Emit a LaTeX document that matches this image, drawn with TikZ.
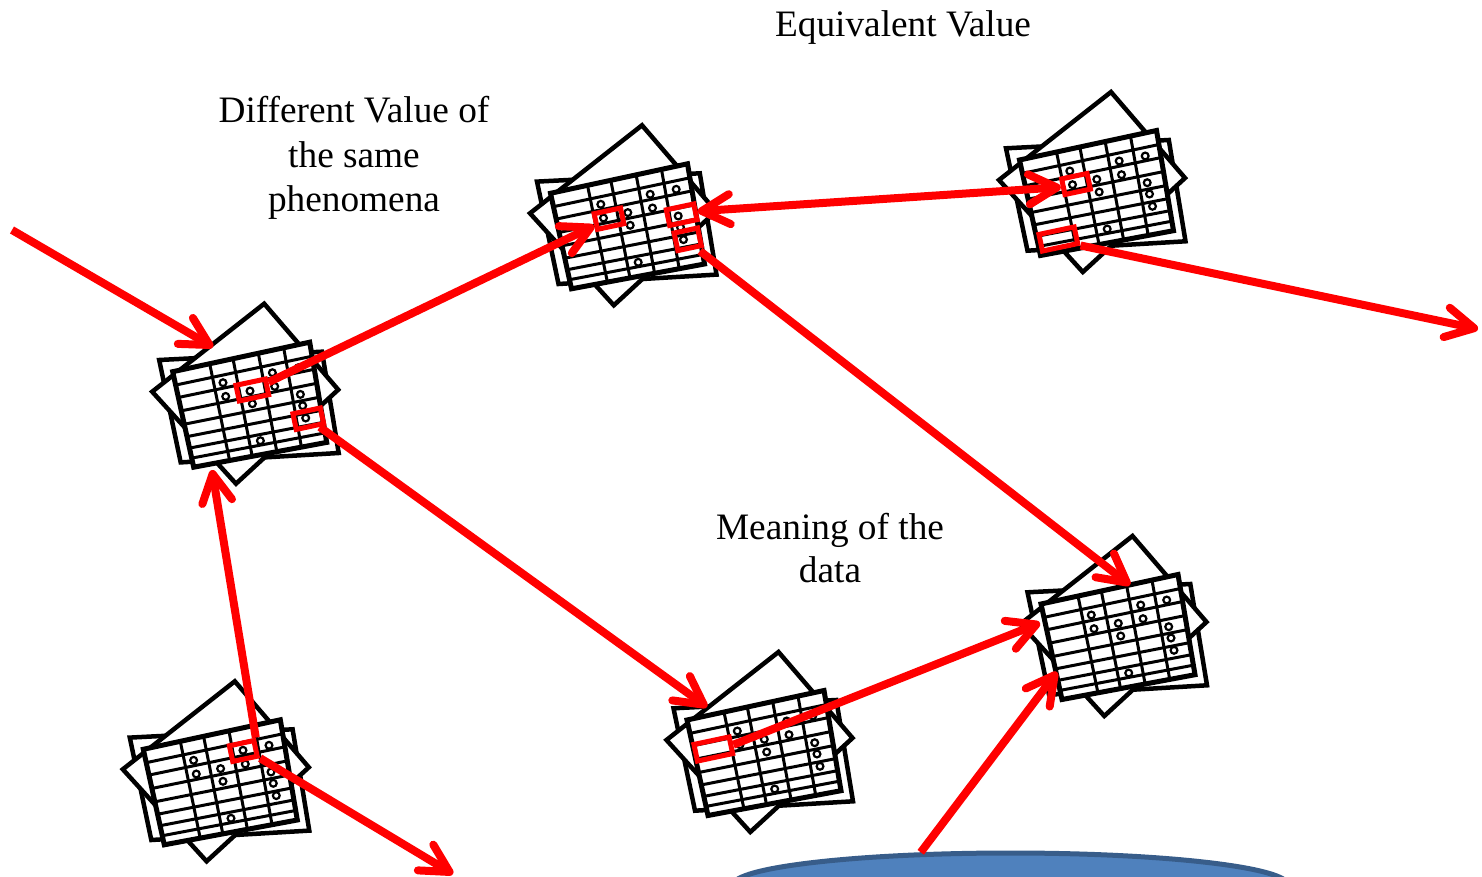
\documentclass[tikz,border=0pt]{standalone}
\usepackage{fontspec}
\setmainfont{Liberation Serif}
\usetikzlibrary{arrows.meta,calc,shapes.geometric}
\tikzset{
	label text/.style={align=center, font=\fontsize{37.3}{44.5}\selectfont},
	redtip/.tip={Straight Barb[length=28pt,width=30pt,round]},
	redarrow/.style={draw=red, line width=8pt, -redtip},
	redbox/.style={draw=red, line width=5pt, rotate=12, inner sep=0pt,
		minimum width=28pt, minimum height=16pt},
	widebox/.style={redbox, minimum width=36pt, minimum height=17pt},
	sheet/.style={draw=black, fill=white, line width=4.5pt, line join=miter}
}
\tikzset{
	datastack/.pic={
		\draw [sheet] (-13.5,-11.7) -- (149.3,-20) -- (166,81.3) -- (8,90.7) -- cycle;
		\draw [sheet] (91.5,-68) -- (165.5,18) -- (63.3,112) -- (-20.5,20) -- cycle;
		\coordinate (tl) at (0,0);
		\coordinate (tr) at (137,-29.5);
		\coordinate (br) at (154,70.7);
		\coordinate (bl) at (21,95.5);
		\draw [sheet, line width=5pt] (tl) -- (tr) -- (br) -- (bl) -- cycle;
		\foreach \v in {.14,.27,.41,.55,.68,.80,.905}
			\draw [line width=3pt] ($(tl)!\v!(bl)$) -- ($(tr)!\v!(br)$);
		\foreach \u in {.27,.44,.625,.81}
			\draw [line width=3pt] ($(tl)!\u!(tr)$) -- ($(bl)!\u!(br)$);
		\foreach \p in {(99.7,1),(125.7,-4),(50.3,11),(77.3,19.3),(102,14.7),(53,24.7),
				(79.7,32),(127.7,22.7),(130,34),(133,46.3),(87.7,69)}
			\draw [line width=2.2pt] \p circle (3.4pt);
	}
}
\begin{document}
\begin{tikzpicture}[x=1pt, y=-1pt]
	\useasboundingbox (0,0) rectangle (1482,877);
	\clip (0,0) rectangle (1482,877);
	% stacks of sheets
	\pic (stackA) at (172.7,371.7) {datastack};
	\pic (stackB) at (550.5,193.3) {datastack};
	\pic (stackC) at (1019.5,160) {datastack};
	\pic (stackD) at (1041,604) {datastack};
	\pic (stackE) at (687,720) {datastack};
	\pic (stackF) at (143.3,749.3) {datastack};
	% labels
	\node [label text] (equal) at (903,27.5) {Equivalent Value};
	\node [label text] (differ) at (354,158) {Different Value of\\the same\\phenomena};
	\node [label text, font=\fontsize{37.3}{43}\selectfont] (meaning) at (830,548) {Meaning of the\\data};
	% highlighted cells
	\node [redbox, minimum width=30pt] (a1) at (252.3,390) {};
	\node [redbox] (a2) at (308.3,418.7) {};
	\node [redbox, minimum width=27pt] (b1) at (609,218.7) {};
	\node [redbox] (b2) at (681.7,214.7) {};
	\node [redbox, minimum width=24pt, minimum height=18pt] (b3) at (687.7,239.3) {};
	\node [redbox, minimum width=26pt] (c1) at (1076,184) {};
	\node [widebox] (c2) at (1058.3,239) {};
	\node [widebox] (e1) at (713.3,749) {};
	\node [redbox, minimum width=25pt] (f1) at (243.3,751) {};
	% disc at the bottom
	\node [ellipse, draw={rgb,255:red,56;green,93;blue,138}, fill={rgb,255:red,79;green,129;blue,189},
		line width=5pt, inner sep=0pt, minimum width=555pt, minimum height=64pt] (disc) at (1010.5,885) {};
	% free ends
	\coordinate (start) at (12,230);
	\coordinate (topA) at (213,347);
	\coordinate (topD) at (1130,585);
	\coordinate (topE) at (707,707);
	\coordinate (leftD) at (1040,623);
	\coordinate (lowD) at (1057,672);
	\coordinate (botA) at (212,470);
	\coordinate (right) at (1478,329);
	\coordinate (bottom) at (453,874);
	\coordinate (outC) at (700,251);
	% arrows
	\draw [redarrow] (start) -- (topA);
	\draw [redarrow] (a1) -- (b1);
	\draw [redarrow] (a2) -- (topE);
	\draw [redarrow] (f1.north east) -- (botA);
	\draw [redarrow] (f1.south east) -- (bottom);
	\draw [redarrow, redtip-redtip] (b2.east) -- (c1.west);
	\draw [redarrow] (outC) -- (topD);
	\draw [redarrow] (c2.south east) -- (right);
	\draw [redarrow] (e1.east) -- (leftD);
	\draw [redarrow] (disc.160.5) -- (lowD);
\end{tikzpicture}
\end{document}
